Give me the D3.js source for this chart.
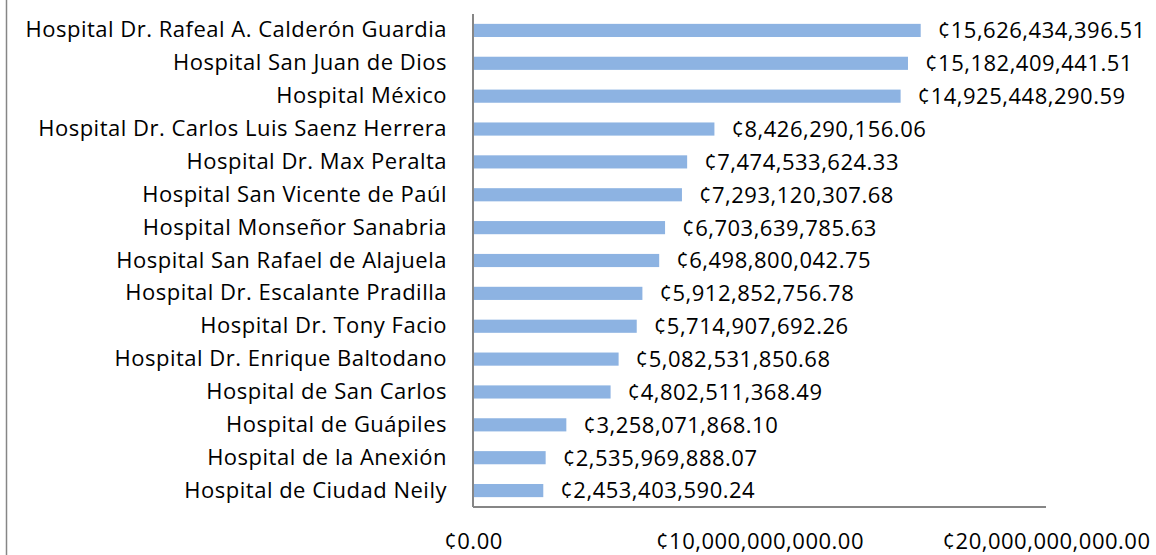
<!DOCTYPE html>
<html>
<head>
<meta charset="utf-8">
<style>
  body { margin: 0; background: #fff; }
  svg text { font-family: "Open Sans", sans-serif; fill: #000; letter-spacing: 0.5px; }
</style>
</head>
<body>
<svg id="chart" width="1156" height="555"></svg>
<script src="https://cdn.jsdelivr.net/npm/d3@7"></script>
<script>
// data
var hospitals = [
  "Hospital Dr. Rafeal A. Calderón Guardia",
  "Hospital San Juan de Dios",
  "Hospital México",
  "Hospital Dr. Carlos Luis Saenz Herrera",
  "Hospital Dr. Max Peralta",
  "Hospital San Vicente de Paúl",
  "Hospital Monseñor Sanabria",
  "Hospital San Rafael de Alajuela",
  "Hospital Dr. Escalante Pradilla",
  "Hospital Dr. Tony Facio",
  "Hospital Dr. Enrique Baltodano",
  "Hospital de San Carlos",
  "Hospital de Guápiles",
  "Hospital de la Anexión",
  "Hospital de Ciudad Neily"
]
var amounts = [
  15626434396.51, 15182409441.51, 14925448290.59, 8426290156.06, 7474533624.33,
  7293120307.68, 6703639785.63, 6498800042.75, 5912852756.78, 5714907692.26,
  5082531850.68, 4802511368.49, 3258071868.10, 2535969888.07, 2453403590.24
]
var xTicks = [0, 10000000000, 20000000000]

var fontSize = 22

var svg = d3.select('#chart')

// chart frame left edge
svg.append('line')
  .attr('x1', 6.5).attr('x2', 6.5)
  .attr('y1', 0).attr('y2', 555)
  .attr('stroke', '#868686').attr('stroke-width', 1.5)

var plotLeft = 473, plotRight = 1046, plotTop = 14, plotBottom = 507

var x = d3.scaleLinear().domain([0, 20000000000]).range([plotLeft, plotRight])
var y = d3.scaleBand().domain(hospitals).range([plotTop, plotBottom]).paddingInner(0.6).paddingOuter(0.3)

var money = function (v) { return '¢' + d3.format(',.2f')(v) }

// bars
svg.selectAll('rect.bar')
  .data(amounts)
  .enter().append('rect')
  .attr('class', 'bar')
  .attr('x', x(0))
  .attr('y', (d, i) => y(hospitals[i]))
  .attr('width', d => x(d) - x(0))
  .attr('height', y.bandwidth())
  .attr('fill', '#8DB3E2')

// value labels
svg.selectAll('text.val')
  .data(amounts)
  .enter().append('text')
  .attr('class', 'val')
  .attr('x', d => x(d) + 17)
  .attr('y', (d, i) => y(hospitals[i]) + y.bandwidth() / 2)
  .attr('dy', '0.36em')
  .style('font-size', fontSize + 'px')
  .text(money)

// category axis (labels only)
var yAxis = svg.append('g')
  .attr('transform', 'translate(' + plotLeft + ',0)')
  .call(d3.axisLeft(y).tickSize(0).tickPadding(26))
yAxis.select('.domain').remove()
yAxis.selectAll('text').style('font-size', fontSize + 'px').attr('font-family', null)

svg.append('line')
  .attr('x1', plotLeft).attr('x2', plotLeft)
  .attr('y1', plotTop).attr('y2', plotBottom)
  .attr('stroke', '#868686').attr('stroke-width', 2)
svg.append('line')
  .attr('x1', plotLeft).attr('x2', plotRight)
  .attr('y1', plotBottom).attr('y2', plotBottom)
  .attr('stroke', '#868686').attr('stroke-width', 2)

// value axis tick labels
var xAxis = svg.append('g')
  .attr('transform', 'translate(0,' + plotBottom + ')')
  .call(d3.axisBottom(x).tickValues(xTicks).tickFormat(money).tickSize(0).tickPadding(26))
xAxis.select('.domain').remove()
xAxis.selectAll('text').style('font-size', fontSize + 'px').attr('font-family', null)
</script>
</body>
</html>
